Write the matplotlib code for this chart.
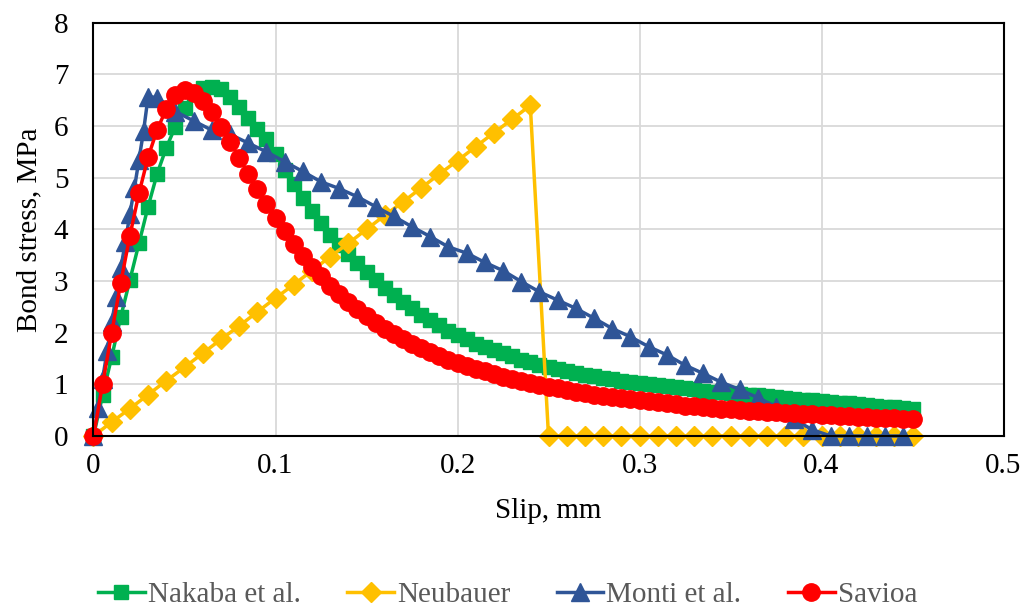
import numpy as np
import matplotlib.pyplot as plt

# slip grid (mm) shared by Nakaba and Savioa curves
slip_fine = [0.000, 0.005, 0.010, 0.015, 0.020, 0.025, 0.030, 0.035, 0.040, 0.045,
             0.050, 0.055, 0.060, 0.065, 0.070, 0.075, 0.080, 0.085, 0.090, 0.095,
             0.100, 0.105, 0.110, 0.115, 0.120, 0.125, 0.130, 0.135, 0.140, 0.145,
             0.150, 0.155, 0.160, 0.165, 0.170, 0.175, 0.180, 0.185, 0.190, 0.195,
             0.200, 0.205, 0.210, 0.215, 0.220, 0.225, 0.230, 0.235, 0.240, 0.245,
             0.250, 0.255, 0.260, 0.265, 0.270, 0.275, 0.280, 0.285, 0.290, 0.295,
             0.300, 0.305, 0.310, 0.315, 0.320, 0.325, 0.330, 0.335, 0.340, 0.345,
             0.350, 0.355, 0.360, 0.365, 0.370, 0.375, 0.380, 0.385, 0.390, 0.395,
             0.400, 0.405, 0.410, 0.415, 0.420, 0.425, 0.430, 0.435, 0.440, 0.445,
             0.450]

nakaba = [0.00, 0.79, 1.53, 2.31, 3.02, 3.73, 4.44, 5.08, 5.58, 5.99,
          6.35, 6.62, 6.73, 6.76, 6.72, 6.56, 6.36, 6.15, 5.95, 5.74,
          5.45, 5.15, 4.87, 4.60, 4.35, 4.12, 3.90, 3.70, 3.52, 3.35,
          3.18, 3.02, 2.87, 2.73, 2.60, 2.47, 2.35, 2.24, 2.14, 2.04,
          1.95, 1.87, 1.79, 1.72, 1.66, 1.60, 1.54, 1.48, 1.43, 1.38,
          1.34, 1.30, 1.26, 1.22, 1.19, 1.16, 1.13, 1.10, 1.07, 1.05,
          1.02, 1.00, 0.98, 0.96, 0.94, 0.92, 0.90, 0.88, 0.86, 0.85,
          0.84, 0.82, 0.80, 0.79, 0.77, 0.75, 0.73, 0.72, 0.70, 0.69,
          0.67, 0.66, 0.64, 0.63, 0.61, 0.60, 0.58, 0.57, 0.56, 0.54,
          0.53]

savioa = [0.00, 1.00, 2.00, 2.97, 3.88, 4.70, 5.40, 5.93, 6.33, 6.60,
          6.70, 6.63, 6.49, 6.27, 5.99, 5.70, 5.39, 5.08, 4.78, 4.49,
          4.21, 3.96, 3.71, 3.49, 3.28, 3.09, 2.91, 2.74, 2.59, 2.45,
          2.32, 2.19, 2.08, 1.98, 1.88, 1.79, 1.70, 1.63, 1.55, 1.48,
          1.42, 1.36, 1.30, 1.25, 1.20, 1.15, 1.11, 1.07, 1.03, 0.99,
          0.95, 0.92, 0.89, 0.86, 0.83, 0.80, 0.78, 0.75, 0.73, 0.71,
          0.69, 0.67, 0.65, 0.63, 0.61, 0.59, 0.58, 0.56, 0.55, 0.53,
          0.52, 0.51, 0.49, 0.48, 0.47, 0.46, 0.45, 0.44, 0.43, 0.42,
          0.41, 0.40, 0.39, 0.38, 0.37, 0.36, 0.35, 0.35, 0.34, 0.33,
          0.33]

slip_neub = [0.00, 0.01, 0.02, 0.03, 0.04, 0.05, 0.06, 0.07, 0.08, 0.09,
             0.10, 0.11, 0.12, 0.13, 0.14, 0.15, 0.16, 0.17, 0.18, 0.19,
             0.20, 0.21, 0.22, 0.23, 0.24, 0.25, 0.26, 0.27, 0.28, 0.29,
             0.30, 0.31, 0.32, 0.33, 0.34, 0.35, 0.36, 0.37, 0.38, 0.39,
             0.40, 0.41, 0.42, 0.43, 0.44, 0.45]
neubauer = [0.00, 0.27, 0.53, 0.80, 1.07, 1.33, 1.60, 1.87, 2.13, 2.40,
            2.67, 2.93, 3.20, 3.47, 3.73, 4.00, 4.27, 4.53, 4.80, 5.07,
            5.33, 5.60, 5.87, 6.13, 6.40, 0.00, 0.00, 0.00, 0.00, 0.00,
            0.00, 0.00, 0.00, 0.00, 0.00, 0.00, 0.00, 0.00, 0.00, 0.00,
            0.00, 0.00, 0.00, 0.00, 0.00, 0.00]

slip_monti = [0.0000, 0.0025, 0.0050, 0.0075, 0.0100, 0.0125, 0.0150, 0.0175, 0.0200,
              0.0225, 0.0250, 0.0275, 0.0300, 0.035, 0.045, 0.055, 0.065, 0.075,
              0.085, 0.095, 0.105, 0.115, 0.125, 0.135, 0.145, 0.155, 0.165, 0.175,
              0.185, 0.195, 0.205, 0.215, 0.225, 0.235, 0.245, 0.255, 0.265, 0.275,
              0.285, 0.295, 0.305, 0.315, 0.325, 0.335, 0.345, 0.355, 0.365, 0.375,
              0.385, 0.395, 0.405, 0.415, 0.425, 0.435, 0.445]
monti = [0.00, 0.55, 1.10, 1.65, 2.20, 2.70, 3.25, 3.75, 4.30,
         4.80, 5.35, 5.90, 6.57, 6.55, 6.28, 6.10, 5.92, 5.84,
         5.67, 5.50, 5.31, 5.12, 4.92, 4.79, 4.63, 4.44, 4.25, 4.05,
         3.86, 3.66, 3.54, 3.36, 3.20, 2.99, 2.79, 2.63, 2.47, 2.28,
         2.08, 1.92, 1.73, 1.57, 1.37, 1.21, 1.04, 0.90, 0.74, 0.57,
         0.32, 0.12, 0.00, 0.00, 0.00, 0.00, 0.00]

plt.rcParams['font.family'] = ['Liberation Serif', 'DejaVu Serif']

fig = plt.figure(figsize=(10.32, 6.12), dpi=100)
ax = fig.add_axes([0.0906, 0.2876, 0.8818, 0.6753])

ax.plot(slip_fine, nakaba, color='#00B050', lw=2.5, marker='s', ms=10.5,
        label='Nakaba et al.', clip_on=False)
ax.plot(slip_neub, neubauer, color='#FFC000', lw=2.5, marker='D', ms=10.5,
        label='Neubauer', clip_on=False)
ax.plot(slip_monti, monti, color='#2F5597', lw=2.5, marker='^', ms=13,
        label='Monti et al.', clip_on=False)
ax.plot(slip_fine, savioa, color='#FF0000', lw=2.5, marker='o', ms=12.5,
        label='Savioa', clip_on=False)

ax.set_xlim(0, 0.5)
ax.set_ylim(0, 8)
ax.set_xticks([0, 0.1, 0.2, 0.3, 0.4, 0.5])
ax.set_xticklabels(['0', '0.1', '0.2', '0.3', '0.4', '0.5'])
ax.set_yticks(range(0, 9))
ax.grid(True, color='#D9D9D9', lw=1.3)
ax.set_axisbelow(True)
for s in ax.spines.values():
    s.set_linewidth(1.5)
    s.set_color('black')
ax.tick_params(length=0, labelsize=21, pad=12)
ax.tick_params(axis='y', pad=18)

ax.set_xlabel('Slip, mm', fontsize=21, labelpad=14)
ax.set_ylabel('Bond stress, MPa', fontsize=21, labelpad=8)

leg = ax.legend(loc='center', bbox_to_anchor=(0.455, -0.385), ncol=4, frameon=False,
                fontsize=21, handlelength=1.6, handletextpad=0.1, columnspacing=1.6,
                labelcolor='#595959')

fig.savefig('out.png', dpi=100)
